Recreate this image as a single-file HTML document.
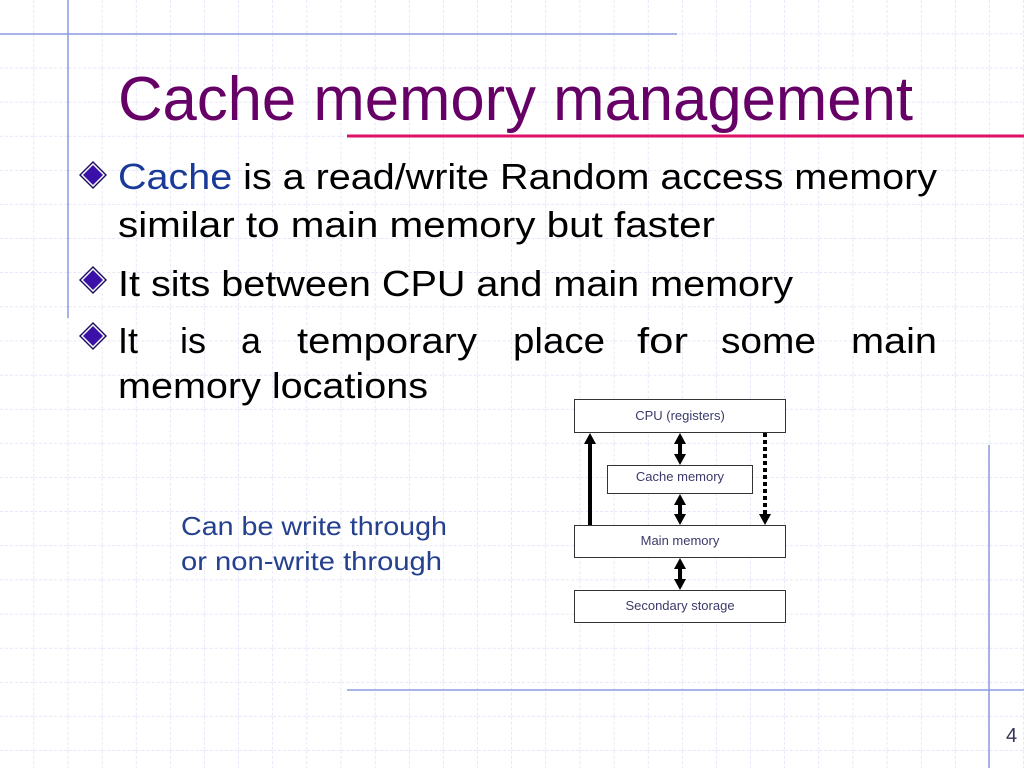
<!DOCTYPE html>
<html><head><meta charset="utf-8"><style>
html,body{margin:0;padding:0;background:#fff;}
svg{display:block;}
text{font-family:"Liberation Sans",sans-serif;}
</style></head><body>
<svg width="1024" height="768" viewBox="0 0 1024 768" xmlns="http://www.w3.org/2000/svg">
<defs>
<pattern id="g" x="0" y="0" width="34.13" height="34.13" patternUnits="userSpaceOnUse">
<path d="M34.13 0V34.13M0 34.13H34.13" stroke="#d8d8f4" stroke-width="1.2" stroke-dasharray="3 2" fill="none"/>
</pattern>
<g id="dia">
<path d="M0 -14L14 0L0 14L-14 0Z" fill="#1a0d5e"/>
<path d="M0 -12L12 0L0 12L-12 0Z" fill="#fff"/>
<path d="M0 -10L10 0L0 10L-10 0Z" fill="#3b10a8"/>
</g>
</defs>
<rect width="1024" height="768" fill="url(#g)"/>
<line x1="0" y1="34" x2="677" y2="34" stroke="#8c9ae0" stroke-width="1.5"/>
<line x1="68" y1="0" x2="68" y2="318" stroke="#8c9ae0" stroke-width="1.5"/>
<line x1="347" y1="690" x2="1024" y2="690" stroke="#8c9ae0" stroke-width="1.5"/>
<line x1="989" y1="445" x2="989" y2="768" stroke="#8c9ae0" stroke-width="1.5"/>
<line x1="347" y1="136" x2="1024" y2="136" stroke="#e0106a" stroke-width="3"/>

<text x="118" y="120" font-size="62" fill="#660066" textLength="795" lengthAdjust="spacingAndGlyphs">Cache memory management</text>

<use href="#dia" x="93" y="175"/>
<use href="#dia" x="93" y="280"/>
<use href="#dia" x="93" y="336"/>
<g font-size="36" fill="#000">
<text x="118" y="189" textLength="819" lengthAdjust="spacingAndGlyphs"><tspan fill="#1a3a9a">Cache</tspan> is a read/write Random access memory</text>
<text x="118" y="237" textLength="597" lengthAdjust="spacingAndGlyphs">similar to main memory but faster</text>
<text x="118" y="296" textLength="675" lengthAdjust="spacingAndGlyphs">It sits between CPU and main memory</text>
<text x="118" y="353">It</text>
<text x="180" y="353">is</text>
<text x="241" y="353">a</text>
<text x="297" y="353" textLength="180" lengthAdjust="spacingAndGlyphs">temporary</text>
<text x="513" y="353" textLength="92" lengthAdjust="spacingAndGlyphs">place</text>
<text x="637" y="353" textLength="51" lengthAdjust="spacingAndGlyphs">for</text>
<text x="721" y="353" textLength="95" lengthAdjust="spacingAndGlyphs">some</text>
<text x="851" y="353" textLength="86" lengthAdjust="spacingAndGlyphs">main</text>
<text x="118" y="398" textLength="310" lengthAdjust="spacingAndGlyphs">memory locations</text>
</g>
<g font-size="26" fill="#24408e">
<text x="181" y="535" textLength="266" lengthAdjust="spacingAndGlyphs">Can be write through</text>
<text x="181" y="570" textLength="261" lengthAdjust="spacingAndGlyphs">or non-write through</text>
</g>

<g fill="#fff" stroke="#333" stroke-width="1">
<rect x="574.5" y="399.5" width="211" height="33"/>
<rect x="607.5" y="465.5" width="145" height="28"/>
<rect x="574.5" y="525.5" width="211" height="32"/>
<rect x="574.5" y="590.5" width="211" height="32"/>
</g>
<g font-size="13" fill="#3a3a6a" text-anchor="middle">
<text x="680" y="420">CPU (registers)</text>
<text x="680" y="481">Cache memory</text>
<text x="680" y="545">Main memory</text>
<text x="680" y="610">Secondary storage</text>
</g>
<g fill="#000">
<path d="M680 433L686 444L682 444L682 454L686 454L680 465L674 454L678 454L678 444L674 444Z"/>
<path d="M680 494L686 505L682 505L682 514L686 514L680 525L674 514L678 514L678 505L674 505Z"/>
<path d="M680 558L686 569L682 569L682 579L686 579L680 590L674 579L678 579L678 569L674 569Z"/>
<path d="M590 433L596 444L592 444L592 525L588 525L588 444L584 444Z"/>
<path d="M765 525L771 514L759 514Z"/>
</g>
<line x1="765" y1="433" x2="765" y2="514" stroke="#000" stroke-width="4" stroke-dasharray="4 3"/>
<text x="1006" y="742" font-size="20" fill="#333355">4</text>
</svg>
</body></html>
